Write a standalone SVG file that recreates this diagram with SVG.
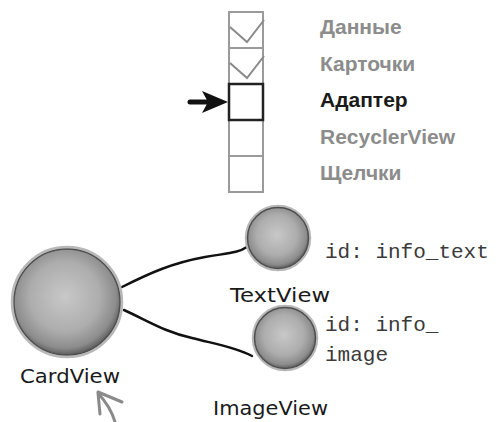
<svg xmlns="http://www.w3.org/2000/svg" width="497" height="422" viewBox="0 0 497 422">
<style>
.box{fill:#fff;stroke:#9a9a9a;stroke-width:2}
.cur{fill:#fff;stroke:#222;stroke-width:2.5}
.chk{fill:none;stroke:#8a8a8a;stroke-width:2}
.step{font-family:"Liberation Sans",Arial,sans-serif;font-weight:bold;font-size:21px;fill:#8c8c8c}
.stepcur{fill:#1a1a1a}
.lbl{font-family:"DejaVu Sans","Liberation Sans",sans-serif;font-size:20px;fill:#1a1a1a}
.id{font-family:"Liberation Mono","Courier New",monospace;font-size:21px;fill:#3a3a3a}
.ball{fill:url(#shade);stroke:#4f4f4f;stroke-width:1.5}
.halo{fill:none;stroke:#b8b8b8;stroke-width:2.5}
.con{fill:none;stroke:#111;stroke-width:2.5;stroke-linecap:round}
</style>
<defs>
<radialGradient id="shade" cx="0.48" cy="0.45" r="0.55">
<stop offset="0" stop-color="#c8c8c8"/>
<stop offset="0.6" stop-color="#adadad"/>
<stop offset="0.88" stop-color="#8c8c8c"/>
<stop offset="1" stop-color="#5e5e5e"/>
</radialGradient>
</defs>
<g id="checklist">
<rect class="box" x="229" y="12" width="34" height="36"/>
<rect class="box" x="229" y="48" width="34" height="36"/>
<rect class="box" x="229" y="120" width="34" height="36"/>
<rect class="box" x="229" y="156" width="34" height="36"/>
<rect class="cur" x="229" y="84" width="34" height="36"/>
<path class="chk" d="M230,27 L247,42 L264,20"/>
<path class="chk" d="M230,63 L247,78 L264,56"/>
<text class="step" x="320" y="34">Данные</text>
<text class="step" x="320" y="71">Карточки</text>
<text class="step stepcur" x="320" y="107">Адаптер</text>
<text class="step" x="320" y="144">RecyclerView</text>
<text class="step" x="320" y="180">Щелчки</text>
<line x1="190" y1="102" x2="210" y2="102" stroke="#111" stroke-width="5" stroke-linecap="round"/>
<path d="M228,102 L202,91 L208,102 L202,113 Z" fill="#111"/>
</g>
<g id="connectors">
<path class="con" d="M122,287 C150,273 172,263 205,257 C228,253 238,253 247,247"/>
<path class="con" d="M124,310 C150,322 165,332 192,338 C215,344 235,347 252,356"/>
</g>
<g id="cardview">
<circle class="halo" cx="67" cy="302" r="55"/>
<circle class="ball" cx="67" cy="302" r="53"/>
<text class="lbl" x="20" y="383" textLength="100" lengthAdjust="spacingAndGlyphs">CardView</text>
<path d="M98,393 L100,414 M98,392 L122,402 M98,393 C106,402 112,411 115,422" fill="none" stroke="#8a8a8a" stroke-width="3" stroke-linecap="round"/>
</g>
<g id="textview">
<circle class="halo" cx="278" cy="238" r="32"/>
<circle class="ball" cx="278" cy="238" r="30.5"/>
<text class="lbl" x="230" y="302" textLength="100" lengthAdjust="spacingAndGlyphs">TextView</text>
<text class="id" x="325" y="258">id: info_text</text>
</g>
<g id="imageview">
<circle class="halo" cx="285" cy="338" r="32"/>
<circle class="ball" cx="285" cy="338" r="30.5"/>
<text class="lbl" x="213" y="415" textLength="115" lengthAdjust="spacingAndGlyphs">ImageView</text>
<text class="id" x="325" y="331">id: info_</text>
<text class="id" x="325" y="361">image</text>
</g>
</svg>
